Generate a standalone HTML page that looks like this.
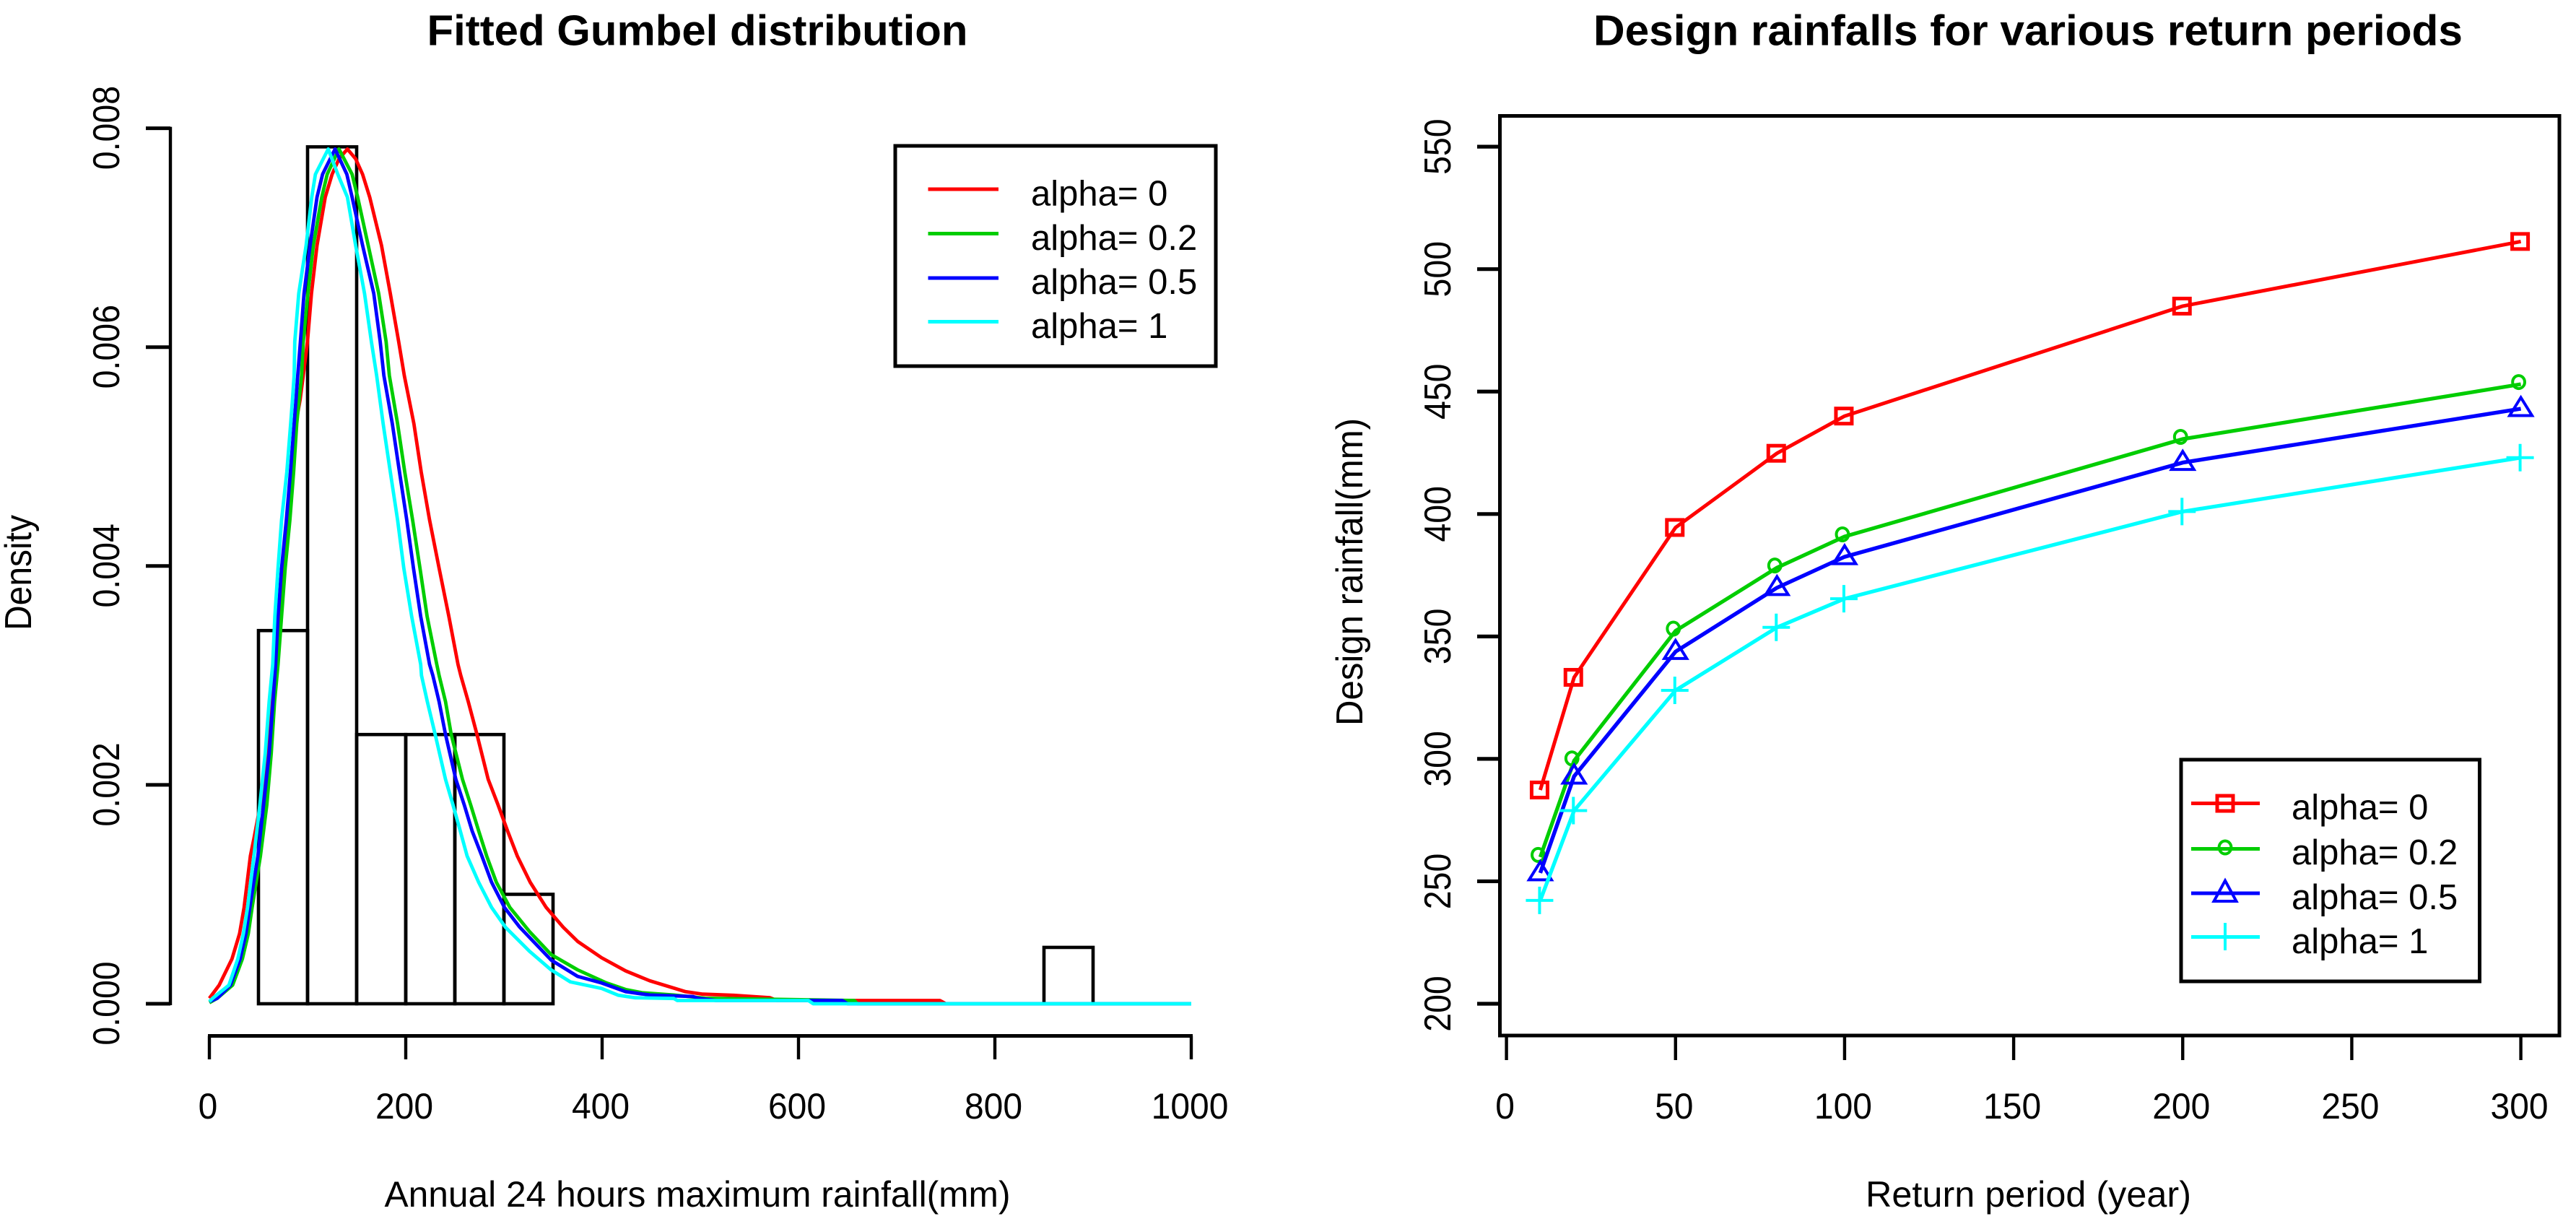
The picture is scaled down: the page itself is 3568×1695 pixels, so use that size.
<!DOCTYPE html>
<html lang="en">
<head>
<meta charset="utf-8">
<title>Fitted Gumbel distribution and design rainfalls</title>
<style>
html,body{margin:0;padding:0;background:#fff;width:3568px;height:1695px;overflow:hidden}
svg{display:block}
text{font-family:"Liberation Sans",Arial,sans-serif;fill:#000}
</style>
</head>
<body>
<svg id="chart" xmlns="http://www.w3.org/2000/svg" width="3568" height="1695" viewBox="0 0 3568 1695">
  <rect x="0" y="0" width="3568" height="1695" fill="#fff"/>

  <g id="left"></g>
  <g id="right"></g>

  <text x="966" y="62.5" font-size="59" font-weight="bold" text-anchor="middle" textLength="749" lengthAdjust="spacingAndGlyphs">Fitted Gumbel distribution</text>
  <text x="966" y="1671" font-size="50" text-anchor="middle" textLength="867" lengthAdjust="spacingAndGlyphs">Annual 24 hours maximum rainfall(mm)</text>
  <text transform="translate(43,793) rotate(-90) scale(1,1.03)" font-size="50" text-anchor="middle" textLength="160" lengthAdjust="spacingAndGlyphs">Density</text>

  <text x="2809" y="62.5" font-size="59" font-weight="bold" text-anchor="middle" textLength="1204" lengthAdjust="spacingAndGlyphs">Design rainfalls for various return periods</text>
  <text x="2809.5" y="1671" font-size="50" text-anchor="middle" textLength="451" lengthAdjust="spacingAndGlyphs">Return period (year)</text>
  <text transform="translate(1887,792) rotate(-90) scale(1,1.03)" font-size="50" text-anchor="middle" textLength="426" lengthAdjust="spacingAndGlyphs">Design rainfall(mm)</text>

  <g>
    <rect x="1240" y="202" width="444" height="305" fill="none" stroke="#000" stroke-width="5"/>
    <line x1="1285.5" x2="1383" y1="262" y2="262" stroke="#ff0000" stroke-width="5"/>
    <line x1="1285.5" x2="1383" y1="323.5" y2="323.5" stroke="#00cd00" stroke-width="5"/>
    <line x1="1285.5" x2="1383" y1="385" y2="385" stroke="#0000ff" stroke-width="5"/>
    <line x1="1285.5" x2="1383" y1="445.5" y2="445.5" stroke="#00ffff" stroke-width="5"/>
    <text x="1428" y="284.5" font-size="49">alpha= 0</text>
    <text x="1428" y="346" font-size="49">alpha= 0.2</text>
    <text x="1428" y="407" font-size="49">alpha= 0.5</text>
    <text x="1428" y="468" font-size="49">alpha= 1</text>
  </g>

  <g>
    <rect x="3021" y="1052" width="413.5" height="307" fill="#fff" stroke="#000" stroke-width="5"/>
    <line x1="3035" x2="3130" y1="1112.5" y2="1112.5" stroke="#ff0000" stroke-width="5"/>
    <rect x="3071" y="1102" width="22" height="21" fill="none" stroke="#ff0000" stroke-width="5"/>
    <line x1="3035" x2="3130" y1="1175.5" y2="1175.5" stroke="#00cd00" stroke-width="5"/>
    <ellipse cx="3082" cy="1173.5" rx="8.4" ry="9" fill="none" stroke="#00cd00" stroke-width="4"/>
    <line x1="3035" x2="3130" y1="1237" y2="1237" stroke="#0000ff" stroke-width="5"/>
    <polygon points="3082,1219.5 3097.5,1248 3066.5,1248" fill="none" stroke="#0000ff" stroke-width="4"/>
    <line x1="3035" x2="3130" y1="1297.5" y2="1297.5" stroke="#00ffff" stroke-width="5"/>
    <line x1="3082" x2="3082" y1="1278" y2="1316" stroke="#00ffff" stroke-width="4"/>
    <text x="3174" y="1134.5" font-size="49">alpha= 0</text>
    <text x="3174" y="1197" font-size="49">alpha= 0.2</text>
    <text x="3174" y="1259" font-size="49">alpha= 0.5</text>
    <text x="3174" y="1320" font-size="49">alpha= 1</text>
  </g>
</svg>

<script>
// ---- Left panel data ----
const histBreaks = [0,50,100,150,200,250,300,350,400,450,500,550,600,650,700,750,800,850,900];
const histDensity = [0,0.00341,0.00783,0.00246,0.00246,0.00246,0.001,0,0,0,0,0,0,0,0,0,0,0.000515];
const densityXTicks = [0,200,400,600,800,1000];
const densityYTicks = [0,0.002,0.004,0.006,0.008];
const densityYLabels = ["0.000","0.002","0.004","0.006","0.008"];

const redCurveX = [0,10,23,30.7,35.4,41.8,45.4,52,58,63.5,67,71.5,75.5,80,84.5,88,92.4,95.6,99.9,104,109.6,118,125,132,140.6,149,156,163.3,175.3,184.3,192.8,198.5,208.3,215.7,224.3,234,243.9,253.2,256,263.7,272.6,284,293.9,303.7,313.6,326.8,343,360.3,375,399.5,424,448.5,473,485,502.5,534,571,578,744,750,1000];
const redCurveD = [0.00005,0.00017,0.00041,0.00064,0.00088,0.00135,0.00151,0.00182,0.00229,0.00276,0.0031,0.00354,0.00398,0.00442,0.00486,0.0053,0.00552,0.00574,0.00605,0.00649,0.00693,0.00737,0.00758,0.00772,0.00781,0.00772,0.00758,0.00737,0.00693,0.00649,0.00605,0.00574,0.0053,0.00486,0.00442,0.00398,0.00354,0.0031,0.003,0.00276,0.00246,0.00205,0.00182,0.00158,0.00135,0.00111,0.00088,0.0007,0.00057,0.00042,0.0003,0.00021,0.000143,0.00011,0.000088,0.000077,0.000055,0.00003,0.00003,0,0];

const greenCurveX = [0,8,23.7,33.6,39.6,43.5,52,58.5,63,66.4,69.9,73.5,77.2,82,85.8,89,91.4,93.9,95.6,100.4,105.9,114.5,120,132,145.4,151,161.8,172.4,180,183.3,191.7,199,207,214.5,221.8,231.6,234,240.5,246.3,257.8,266,274.3,282.4,292.3,306,326,348,375,404.4,424,441,473,505,656.8,660,1000];
const greenCurveD = [0.00001,0.00005,0.00017,0.00041,0.00064,0.00088,0.00135,0.00182,0.00229,0.00276,0.0031,0.00354,0.00398,0.00442,0.00486,0.0053,0.00552,0.00574,0.00605,0.00649,0.00693,0.00737,0.00758,0.00781,0.00758,0.00737,0.00693,0.00649,0.00605,0.00574,0.0053,0.00486,0.00442,0.00398,0.00354,0.0031,0.003,0.00276,0.00246,0.00205,0.00182,0.00158,0.00135,0.00111,0.00088,0.00066,0.00045,0.00031,0.00019,0.00013,0.0001,0.00008,0.00005,0.00003,0,0];

const blueCurveX = [0,8,21.5,31.3,37.2,41.2,49.4,55.2,60.9,64.8,67.4,69.9,73.5,78.4,82.6,86.3,88.2,90,92.7,96.4,102.6,109.6,115.3,128,140,145.4,156,167.4,174,177.7,186.3,193.6,201,207.9,215.2,224.3,227.6,234,240.5,251,259.5,267.6,277.5,287.4,300.5,316,348,375,399.5,424,448.5,492.6,497.5,516,644.6,650,1000];
const blueCurveD = [0.00002,0.00005,0.00017,0.00041,0.00064,0.00088,0.00135,0.00182,0.00229,0.00276,0.0031,0.00354,0.00398,0.00442,0.00486,0.0053,0.00552,0.00574,0.00605,0.00649,0.00693,0.00737,0.00758,0.00781,0.00758,0.00737,0.00693,0.00649,0.00605,0.00574,0.0053,0.00486,0.00442,0.00398,0.00354,0.0031,0.003,0.00276,0.00246,0.00205,0.00182,0.00158,0.00135,0.00111,0.00088,0.0007,0.0004,0.00025,0.00019,0.00011,0.00008,0.000066,0.00005,0.00003,0.00003,0,0];

const cyanCurveX = [0,3.4,19.9,29,34.6,38.9,45.4,51.5,56.9,60.9,64.5,66.7,69.9,73.5,78.9,82.8,84.6,86.3,87,91,98.5,104.3,108,121,130.8,140.6,149,158,165,170.4,177,184.3,191.7,198,206,215.2,216,222,230,240.5,248,255.5,262.5,274.3,287.4,301.5,326,348,367.6,399.5,416.6,433.8,473,476.6,610,615,1000];
const cyanCurveD = [0.00002,0.00005,0.00017,0.00041,0.00064,0.00088,0.00135,0.00182,0.00229,0.00276,0.0031,0.00354,0.00398,0.00442,0.00486,0.0053,0.00552,0.00574,0.00605,0.00649,0.00693,0.00737,0.00758,0.00781,0.00758,0.00737,0.00693,0.00649,0.00605,0.00574,0.0053,0.00486,0.00442,0.00398,0.00354,0.0031,0.003,0.00276,0.00246,0.00205,0.00182,0.00158,0.00135,0.00111,0.00088,0.0007,0.00048,0.00031,0.0002,0.00014,0.000077,0.000055,0.000048,0.00003,0.00003,0,0];

// ---- Right panel data ----
const returnPeriods = [10,20,50,80,100,200,300];
const rainfallAlpha0 = [287.3,333.3,394.5,424.8,440,484.9,511.3];
const rainfallAlpha02 = [259.9,299.3,352.3,378.1,390.8,430.6,453];
const rainfallAlpha05 = [253.4,292.9,343.8,369.9,382.5,421,443];
const rainfallAlpha1 = [242.2,278.9,328,353.7,365.4,401,423];
const returnXTicks = [0,50,100,150,200,250,300];
const rainfallYTicks = [200,250,300,350,400,450,500,550];

// ---- Axis functions ----
function xL(v){return 290+v*1.36;}
function yL(v){return 1390-v*151550;}
function xR(v){return 2086.6+v*4.6833;}
function yR(v){return 1390-(v-200)*3.391;}

const SVGNS='http://www.w3.org/2000/svg';
function make(parent,tag,attrs){
  const n=document.createElementNS(SVGNS,tag);
  for(const k in attrs){n.setAttribute(k,attrs[k]);}
  parent.appendChild(n);
  return n;
}
const left=document.getElementById('left');
const right=document.getElementById('right');

// Histogram
for(let i=0;i<histDensity.length;i++){
  const x0=xL(histBreaks[i]),x1=xL(histBreaks[i+1]),y0=yL(histDensity[i]),yb=yL(0);
  const el=make(left,'rect',{x:x0,y:y0,width:x1-x0,height:yb-y0,fill:'none',stroke:'#000','stroke-width':4.6});
  
  
}

// Density curves
function drawCurve(xs,ds,color){
  let pts='';
  for(let i=0;i<xs.length;i++){pts+=xL(xs[i]).toFixed(1)+','+yL(ds[i]).toFixed(1)+' ';}
  return make(left,'polyline',{points:pts,fill:'none',stroke:color,'stroke-width':4.8,'stroke-linejoin':'round'});
}
const c0=drawCurve(redCurveX,redCurveD,'#ff0000');


const c1=drawCurve(greenCurveX,greenCurveD,'#00cd00');


const c2=drawCurve(blueCurveX,blueCurveD,'#0000ff');


const c3=drawCurve(cyanCurveX,cyanCurveD,'#00ffff');



// Left axes
const lxLine=make(left,'line',{x1:xL(densityXTicks[0])-2,x2:xL(densityXTicks[densityXTicks.length-1])+2,y1:1434.5,y2:1434.5,stroke:'#000','stroke-width':5});


densityXTicks.forEach(function(v){
  const t=make(left,'line',{x1:xL(v),x2:xL(v),y1:1434.5,y2:1467,stroke:'#000','stroke-width':4.4});
  
  
  const l=make(left,'text',{transform:'translate('+(xL(v)-2)+',1549) scale(0.96,1)','font-size':50,'text-anchor':'middle'});
  l.textContent=String(v);
  
  
});
const lyLine=make(left,'line',{x1:236,x2:236,y1:yL(densityYTicks[0])+2,y2:yL(densityYTicks[densityYTicks.length-1])-2,stroke:'#000','stroke-width':4.4});


densityYTicks.forEach(function(v,i){
  const t=make(left,'line',{x1:202,x2:236,y1:yL(v),y2:yL(v),stroke:'#000','stroke-width':5});
  
  
  const l=make(left,'text',{transform:'translate(165,'+(yL(v)-0.5)+') rotate(-90) scale(0.93,1.04)','font-size':50,'text-anchor':'middle'});
  l.textContent=densityYLabels[i];
  
  
});

// Right box and axes
const box=make(right,'rect',{x:2077.5,y:160.5,width:1467.5,height:1273.5,fill:'none',stroke:'#000','stroke-width':5});


returnXTicks.forEach(function(v){
  const t=make(right,'line',{x1:xR(v),x2:xR(v),y1:1434,y2:1468,stroke:'#000','stroke-width':4.4});
  
  
  const l=make(right,'text',{transform:'translate('+(xR(v)-2)+',1549) scale(0.96,1)','font-size':50,'text-anchor':'middle'});
  l.textContent=String(v);
  
  
});
rainfallYTicks.forEach(function(v){
  const t=make(right,'line',{x1:2046,x2:2077.5,y1:yR(v),y2:yR(v),stroke:'#000','stroke-width':5.2});
  
  
  const l=make(right,'text',{transform:'translate(2009,'+yR(v)+') rotate(-90) scale(0.93,1.04)','font-size':50,'text-anchor':'middle'});
  l.textContent=String(v);
  
  
});

// Right series
function drawSeriesLine(vals,color,w){
  let pts='';
  for(let i=0;i<returnPeriods.length;i++){pts+=xR(returnPeriods[i]).toFixed(1)+','+yR(vals[i]).toFixed(1)+' ';}
  return make(right,'polyline',{points:pts,fill:'none',stroke:color,'stroke-width':w,'stroke-linejoin':'round'});
}
const s0=drawSeriesLine(rainfallAlpha0,'#ff0000',5);


rainfallAlpha0.forEach(function(v,i){
  const cx=xR(returnPeriods[i])-1,cy=yR(v);
  const m=make(right,'rect',{x:cx-11,y:cy-10.5,width:22,height:21,fill:'none',stroke:'#ff0000','stroke-width':5});
  
  
});
const s1=drawSeriesLine(rainfallAlpha02,'#00cd00',5.2);


rainfallAlpha02.forEach(function(v,i){
  const cx=xR(returnPeriods[i]),cy=yR(v);
  const m=make(right,'ellipse',{cx:cx-3,cy:cy-3,rx:8.4,ry:9,fill:'none',stroke:'#00cd00','stroke-width':4});
  
  
});
const s2=drawSeriesLine(rainfallAlpha05,'#0000ff',5.4);


rainfallAlpha05.forEach(function(v,i){
  const cx=xR(returnPeriods[i]),cy=yR(v);
  const m=make(right,'polygon',{points:cx+','+(cy-15.5)+' '+(cx+15.5)+','+(cy+9.5)+' '+(cx-15.5)+','+(cy+9.5),fill:'none',stroke:'#0000ff','stroke-width':4});
  
  
});
const s3=drawSeriesLine(rainfallAlpha1,'#00ffff',5.2);


rainfallAlpha1.forEach(function(v,i){
  const cx=xR(returnPeriods[i])-1,cy=yR(v);
  const m=make(right,'path',{d:'M'+(cx-19)+' '+cy+'H'+(cx+19)+'M'+cx+' '+(cy-19)+'V'+(cy+19),fill:'none',stroke:'#00ffff','stroke-width':4});
  
  
});
</script>
</body>
</html>
